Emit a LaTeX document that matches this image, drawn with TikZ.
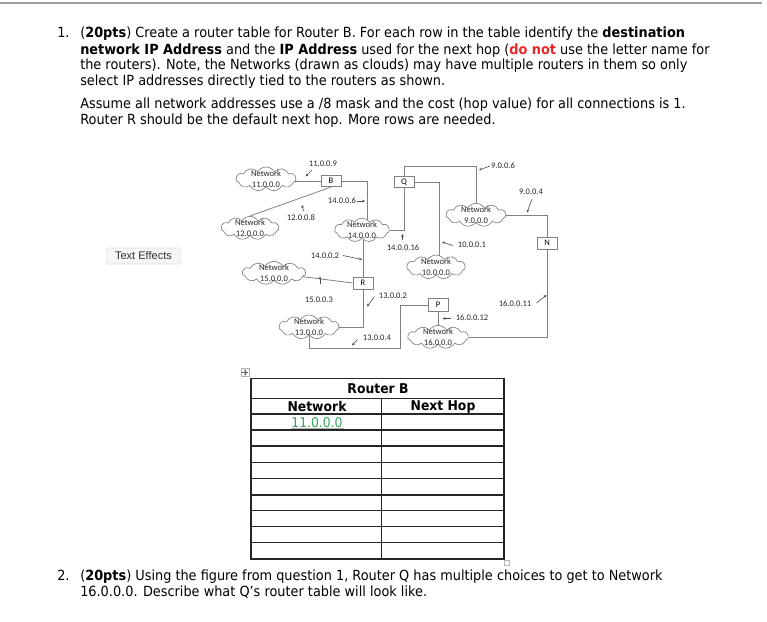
\documentclass[tikz,border=0pt]{standalone}
\usepackage{fontspec}
\setmainfont{DejaVu Sans}[FakeStretch=0.92]
\newfontfamily\diag{Carlito}
\newfontfamily\uifont{Liberation Sans}
\usetikzlibrary{shapes.symbols,arrows.meta,backgrounds}
\definecolor{wirec}{RGB}{128,128,128}
\definecolor{redtxt}{RGB}{232,38,38}
\definecolor{greentxt}{RGB}{55,165,95}
\begin{document}
\begin{tikzpicture}[x=0.75pt,y=-0.75pt,
  wire/.style={draw=wirec,line width=0.6pt},
  lbl/.style={font=\diag\fontsize{6.4}{8}\selectfont,inner sep=0,text=black!85},
  tip/.style={draw=black!70,line width=0.45pt,-{Stealth[length=2.2pt,width=2pt]}},
  netcloud/.style={cloud,cloud puffs=11,cloud puff arc=115,cloud ignores aspect,draw=wirec,fill=white,line width=0.5pt,inner sep=0},
  nettext/.style={align=center,font=\diag\fontsize{6.4}{8}\selectfont,inner sep=0,text=black!85},
  router/.style={rectangle,draw=wirec,fill=white,line width=0.6pt,inner sep=0,minimum width=15pt,minimum height=8.5pt,font=\diag\fontsize{6.4}{8}\selectfont},
  para/.style={anchor=base west,inner sep=0,font=\fontsize{10.5}{12}\selectfont},
  cell/.style={inner sep=0,font=\fontsize{10.1}{12}\selectfont},
  tab/.style={line width=1pt,draw=black!85}
]
\useasboundingbox (0,0) rectangle (767,621);
% top rule
\coordinate (r1) at (0,3);
\coordinate (r2) at (762,3);
\draw[gray!75,line width=1.5pt] (r1) -- (r2);

% question 1 text
\node[para] (n1) at (57,37.5) {1.};
\node[para] (t1) at (80,37.5) {(\textbf{20pts}) Create a router table for Router B. For each row in the table identify the \textbf{destination}};
\node[para] (t2) at (80,54) {\textbf{network IP Address} and the \textbf{IP Address} used for the next hop (\textcolor{redtxt}{\textbf{do not}} use the letter name for};
\node[para] (t3) at (80,69.5) {the routers). Note, the Networks (drawn as clouds) may have multiple routers in them so only};
\node[para] (t4) at (80,85) {select IP addresses directly tied to the routers as shown.};
\node[para] (t5) at (80,108) {Assume all network addresses use a /8 mask and the cost (hop value) for all connections is 1.};
\node[para] (t6) at (80,124.5) {Router R should be the default next hop. More rows are needed.};

% Text Effects button
\node[draw=gray!30,fill=gray!6,rounded corners=1pt,minimum width=56pt,minimum height=12pt,inner sep=0,font=\uifont\fontsize{8.3}{10}\selectfont,text=black!80] (te) at (143.5,256) {Text Effects};

% clouds
\node[netcloud,minimum width=45pt,minimum height=18pt] (c11) at (266,179) {};
\node[nettext] (c11t) at (c11) {Network\\11.0.0.0};
\node[netcloud,minimum width=43.5pt,minimum height=17.5pt] (c12) at (250,228) {};
\node[nettext] (c12t) at (c12) {Network\\12.0.0.0};
\node[netcloud,minimum width=41pt,minimum height=18pt] (c14) at (362,230) {};
\node[nettext] (c14t) at (c14) {Network\\14.0.0.0};
\node[netcloud,minimum width=45pt,minimum height=17.5pt] (c9) at (476,215) {};
\node[nettext] (c9t) at (c9) {Network\\9.0.0.0};
\node[netcloud,minimum width=44pt,minimum height=18pt] (c10) at (436,267) {};
\node[nettext] (c10t) at (c10) {Network\\10.0.0.0};
\node[netcloud,minimum width=47.5pt,minimum height=17.5pt] (c15) at (274,273) {};
\node[nettext] (c15t) at (c15) {Network\\15.0.0.0};
\node[netcloud,minimum width=45pt,minimum height=18pt] (c13) at (309,327) {};
\node[nettext] (c13t) at (c13) {Network\\13.0.0.0};
\node[netcloud,minimum width=45.5pt,minimum height=17.5pt] (c16) at (438,337) {};
\node[nettext] (c16t) at (c16) {Network\\16.0.0.0};

% routers
\node[router] (B) at (331,181) {B};
\node[router] (Q) at (404,182) {Q};
\node[router,minimum height=9pt] (R) at (363,283) {R};
\node[router,minimum height=9.5pt] (P) at (438,305) {P};
\node[router,minimum height=9pt] (N) at (547,243) {N};

% wires
\coordinate (k1) at (367,181);
\coordinate (k2) at (476,166);
\coordinate (k3) at (439,182);
\coordinate (k4) at (400,348);
\begin{pgfonlayer}{background}
\draw[wire] (B.west) -- (B.west -| c11);
\draw[wire] (B.east) -| (k1 |- c14);
\draw[wire] (B.south) -- (c12.north);
\draw[wire] (Q.north) |- (k2) -- (c9);
\draw[wire] (Q.east) -- (k3) -- (k3 |- c10);
\draw[wire] (Q.south) |- (c14);
\draw[wire] (c9) -| (N.north);
\draw[wire] (N.south) |- (c16);
\draw[wire] (R.north) -- (R.north |- c14);
\draw[wire] (c15) -- (R.west);
\draw[wire] (R.south) |- (c13);
\draw[wire] (P.west) -| (k4) -| (c13);
\draw[wire] (P.south) -- (c16);
\end{pgfonlayer}

% address labels
\node[lbl] (l1) at (323,164) {11.0.0.9};
\coordinate (p1a) at (312,170); \coordinate (p1b) at (305.5,176.5);
\draw[tip] (p1a) -- (p1b);
\node[lbl] (l2) at (342,201) {14.0.0.6};
\coordinate (p2a) at (357,201); \coordinate (p2b) at (365,201);
\draw[tip] (p2a) -- (p2b);
\node[lbl] (l3) at (301,218) {12.0.0.8};
\coordinate (p3a) at (303.5,211); \coordinate (p3b) at (302,205);
\draw[tip] (p3a) -- (p3b);
\node[lbl] (l4) at (325,256) {14.0.0.2};
\coordinate (p4a) at (343,255.5); \coordinate (p4b) at (362,259.5);
\draw[tip] (p4a) -- (p4b);
\node[lbl] (l5) at (403,248) {14.0.0.16};
\coordinate (p5a) at (402.5,239.5); \coordinate (p5b) at (402.5,234);
\draw[tip] (p5a) -- (p5b);
\node[lbl] (l6) at (503,166) {9.0.0.6};
\coordinate (p6a) at (490,166); \coordinate (p6b) at (479,170);
\draw[tip] (p6a) -- (p6b);
\node[lbl] (l7) at (531,192) {9.0.0.4};
\coordinate (p7a) at (532,199); \coordinate (p7b) at (527,212.5);
\draw[tip] (p7a) -- (p7b);
\node[lbl] (l8) at (472,245) {10.0.0.1};
\coordinate (p8a) at (453,245.5); \coordinate (p8b) at (442,242);
\draw[tip] (p8a) -- (p8b);
\node[lbl] (l9) at (515,304) {16.0.0.11};
\coordinate (p9a) at (536.5,303); \coordinate (p9b) at (546.5,295);
\draw[tip] (p9a) -- (p9b);
\node[lbl] (l10) at (472,318) {16.0.0.12};
\coordinate (p10a) at (451,318.5); \coordinate (p10b) at (442.5,318.5);
\draw[tip] (p10a) -- (p10b);
\node[lbl] (l11) at (319,300) {15.0.0.3};
\coordinate (p11a) at (320,283.5); \coordinate (p11b) at (320,276.5);
\draw[tip] (p11a) -- (p11b);
\node[lbl] (l12) at (393,296) {13.0.0.2};
\coordinate (p12a) at (374.5,296.5); \coordinate (p12b) at (367,306.5);
\draw[tip] (p12a) -- (p12b);
\node[lbl] (l13) at (377,338) {13.0.0.4};
\coordinate (p13a) at (357.5,339.5); \coordinate (p13b) at (352,345.5);
\draw[tip] (p13a) -- (p13b);

% table move handle
\node[draw=gray!60,fill=white,minimum width=6pt,minimum height=6pt,inner sep=0] (mh) at (245,372.5) {};
\coordinate (mhl) at (241.8,372.5); \coordinate (mhr) at (248.2,372.5);
\coordinate (mht) at (245,369.3); \coordinate (mhb) at (245,375.7);
\draw[gray!70!black,line width=0.35pt,{Stealth[length=1.1pt,width=1.3pt]}-{Stealth[length=1.1pt,width=1.3pt]}] (mhl) -- (mhr);
\draw[gray!70!black,line width=0.35pt,{Stealth[length=1.1pt,width=1.3pt]}-{Stealth[length=1.1pt,width=1.3pt]}] (mht) -- (mhb);

% table
\coordinate (tl) at (251,378.3);
\coordinate (br) at (504,559);
\draw[tab] (tl) rectangle (br);
\foreach \yy in {398.3,414,430,446,462.3,478.3,495,510.7,526.7,542.7}
  \draw[tab] (251,\yy) -- (504,\yy);
\coordinate (cd1) at (381.7,398.3);
\coordinate (cd2) at (381.7,559);
\draw[tab] (cd1) -- (cd2);
\node[cell,font=\fontsize{10.1}{12}\selectfont\bfseries] (hdr) at (378,388.5) {Router B};
\node[cell,font=\fontsize{10.1}{12}\selectfont\bfseries] (hnet) at (317,406.5) {Network};
\node[cell,font=\fontsize{10.1}{12}\selectfont\bfseries] (hhop) at (443,406.5) {Next Hop};
\node[cell,text=greentxt] (v1) at (317,422.5) {11.0.0.0};
\coordinate (u1) at (290.5,428.3); \coordinate (u2) at (343.5,428.3);
\draw[gray!60,line width=0.4pt] (u1) -- (u2);
\node[draw=gray!60,fill=white,minimum width=3.6pt,minimum height=3.6pt,inner sep=0] (rs) at (507,562.5) {};

% question 2 text
\node[para] (n2) at (57,580.5) {2.};
\node[para] (s1) at (80,580.5) {(\textbf{20pts}) Using the figure from question 1, Router Q has multiple choices to get to Network};
\node[para] (s2) at (80,596.5) {16.0.0.0. Describe what Q's router table will look like.};
\end{tikzpicture}
\end{document}
